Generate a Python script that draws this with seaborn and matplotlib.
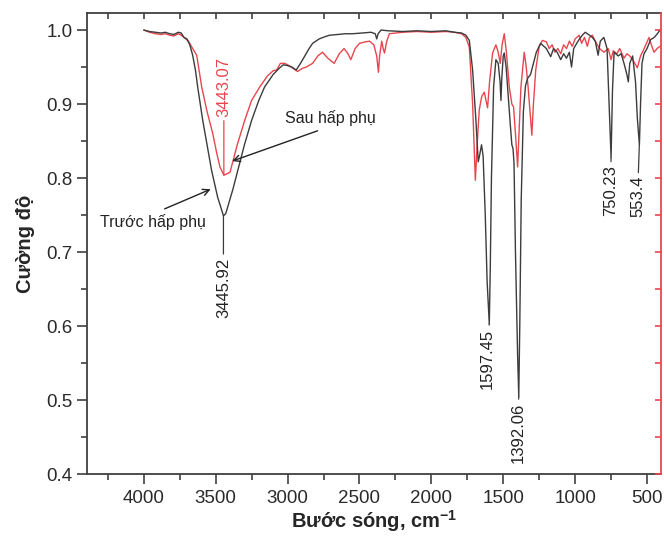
import numpy as np
import pandas as pd
import matplotlib
matplotlib.use("Agg")
import matplotlib.pyplot as plt
import seaborn as sns
from matplotlib.ticker import MultipleLocator

# spectrum before adsorption (black)
black_wn = [4000, 3960, 3920, 3880, 3850, 3820, 3790, 3760, 3740, 3720, 3700, 3680, 3660,
            3640, 3625, 3590, 3560, 3528, 3486, 3460, 3446, 3430, 3410, 3380, 3347, 3300,
            3250, 3200, 3160, 3100, 3060, 3030, 3000, 2970, 2940, 2910, 2880, 2850, 2826,
            2780, 2740, 2708, 2650, 2600, 2550, 2480, 2420, 2390, 2380, 2370, 2350, 2300,
            2200, 2100, 2000, 1900, 1840, 1790, 1760, 1736, 1713, 1690, 1674, 1665, 1651,
            1640, 1625, 1612, 1597, 1590, 1582, 1567, 1551, 1535, 1522, 1516, 1510, 1500,
            1493, 1480, 1465, 1450, 1440, 1432, 1425, 1415, 1400, 1392, 1385, 1375, 1360,
            1345, 1330, 1310, 1290, 1270, 1240, 1200, 1170, 1150, 1125, 1100, 1080, 1060,
            1040, 1025, 1010, 980, 950, 930, 900, 880, 860, 840, 825, 800, 778, 764, 750,
            740, 729, 700, 680, 660, 640, 630, 620, 600, 580, 567, 553, 545, 535, 521, 500,
            475, 450, 428, 410]
black_y = [1.000, 0.998, 0.997, 0.996, 0.997, 0.995, 0.994, 0.997, 0.996, 0.990, 0.988, 0.980, 0.966,
           0.945, 0.923, 0.878, 0.845, 0.810, 0.774, 0.758, 0.749, 0.752, 0.765, 0.785, 0.810, 0.845,
           0.878, 0.905, 0.923, 0.940, 0.948, 0.953, 0.952, 0.950, 0.946, 0.955, 0.965, 0.975, 0.982,
           0.988, 0.991, 0.993, 0.994, 0.995, 0.995, 0.996, 0.997, 0.995, 0.988, 0.995, 1.000, 0.999,
           0.998, 0.999, 0.998, 0.999, 0.997, 0.996, 0.993, 0.986, 0.946, 0.878, 0.822, 0.830, 0.845,
           0.830, 0.750, 0.660, 0.603, 0.680, 0.800, 0.923, 0.960, 0.955, 0.930, 0.905, 0.935, 0.965,
           0.969, 0.950, 0.910, 0.870, 0.845, 0.840, 0.820, 0.700, 0.560, 0.505, 0.600, 0.770, 0.890,
           0.925, 0.935, 0.940, 0.955, 0.970, 0.982, 0.975, 0.964, 0.975, 0.970, 0.960, 0.968, 0.962,
           0.970, 0.950, 0.975, 0.985, 0.993, 0.997, 0.993, 0.990, 0.985, 0.966, 0.985, 0.990, 0.975, 0.900, 0.828,
           0.920, 0.970, 0.965, 0.968, 0.955, 0.940, 0.930, 0.955, 0.965, 0.930, 0.880, 0.845, 0.900, 0.955, 0.968, 0.975,
           0.987, 0.990, 0.995, 1.000]

# spectrum after adsorption (red)
red_wn = [4000, 3960, 3920, 3880, 3850, 3820, 3790, 3760, 3740, 3720, 3690, 3660, 3632,
          3597, 3560, 3520, 3493, 3470, 3443, 3420, 3400, 3350, 3298, 3250, 3194, 3140,
          3100, 3076, 3050, 3020, 2990, 2960, 2930, 2900, 2870, 2826, 2790, 2757, 2720,
          2676, 2640, 2607, 2580, 2560, 2530, 2500, 2460, 2430, 2400, 2380, 2368, 2360,
          2345, 2335, 2326, 2310, 2292, 2200, 2100, 2000, 1900, 1840, 1790, 1760, 1736,
          1713, 1694, 1680, 1667, 1650, 1632, 1620, 1609, 1595, 1574, 1551, 1535, 1521,
          1508, 1493, 1478, 1458, 1440, 1428, 1415, 1400, 1390, 1377, 1354, 1340, 1327,
          1314, 1301, 1290, 1274, 1250, 1227, 1200, 1180, 1160, 1140, 1120, 1100, 1080,
          1060, 1040, 1020, 1000, 972, 955, 935, 915, 900, 880, 860, 830, 800, 770, 750,
          735, 710, 690, 660, 640, 620, 600, 567, 545, 520, 486, 470, 451, 430, 410]
red_y = [1.000, 0.997, 0.995, 0.994, 0.995, 0.993, 0.992, 0.995, 0.993, 0.990, 0.985, 0.975, 0.966,
         0.923, 0.890, 0.860, 0.834, 0.815, 0.804, 0.806, 0.808, 0.845, 0.878, 0.905, 0.923, 0.938,
         0.945, 0.946, 0.955, 0.955, 0.952, 0.948, 0.944, 0.948, 0.950, 0.955, 0.965, 0.970, 0.962,
         0.955, 0.968, 0.975, 0.968, 0.960, 0.975, 0.982, 0.984, 0.985, 0.980, 0.965, 0.943, 0.965,
         0.985, 0.975, 0.969, 0.985, 0.995, 0.997, 0.998, 0.997, 0.998, 0.997, 0.995, 0.990, 0.977,
         0.900, 0.797, 0.850, 0.892, 0.910, 0.916, 0.905, 0.895, 0.930, 0.969, 0.980, 0.970, 0.955,
         0.980, 0.995, 0.970, 0.923, 0.900, 0.896, 0.860, 0.815, 0.860, 0.923, 0.970, 0.950, 0.923,
         0.890, 0.858, 0.900, 0.946, 0.978, 0.986, 0.984, 0.975, 0.980, 0.970, 0.975, 0.968, 0.980,
         0.975, 0.985, 0.978, 0.988, 0.993, 0.982, 0.990, 0.978, 0.990, 0.993, 0.985, 0.975, 0.970, 0.975, 0.960,
         0.972, 0.968, 0.975, 0.962, 0.968, 0.965, 0.960, 0.949, 0.965, 0.975, 0.990, 0.980, 0.970, 0.975, 0.978]

# peak labels
black_peaks = [3445.92, 1597.45, 1392.06, 750.23, 553.4]
black_peak_y = [0.749, 0.603, 0.505, 0.828, 0.845]
black_text_pos = [(3446, 0.693), (1612, 0.597), (1398, 0.497), (752, 0.818), (566, 0.803)]
red_peak = 3443.07
red_peak_y = 0.804

BLACK = "#3c3c3c"
RED = "#e8464e"

sns.set_style("ticks")
plt.rcParams['font.family'] = ['Liberation Sans', 'DejaVu Sans']
plt.rcParams['mathtext.fontset'] = 'custom'
plt.rcParams['mathtext.rm'] = 'Liberation Sans'
plt.rcParams['mathtext.bf'] = 'Liberation Sans:bold'

fig = plt.figure(figsize=(6.64, 5.42), dpi=100)
ax = fig.add_axes([0.131, 0.125, 0.864, 0.851])

df_b = pd.DataFrame({"wn": black_wn, "y": black_y})
df_r = pd.DataFrame({"wn": red_wn, "y": red_y})
sns.lineplot(data=df_r, x="wn", y="y", color=RED, lw=1.0, ax=ax)
sns.lineplot(data=df_b, x="wn", y="y", color=BLACK, lw=1.0, ax=ax)

ax.set_xlim(4395, 405)
ax.set_ylim(0.4, 1.023)
ax.xaxis.set_major_locator(MultipleLocator(500))
ax.xaxis.set_minor_locator(MultipleLocator(250))
ax.yaxis.set_major_locator(MultipleLocator(0.1))
ax.yaxis.set_minor_locator(MultipleLocator(0.05))
ax.yaxis.set_major_formatter(matplotlib.ticker.FormatStrFormatter("%.1f"))
ax.tick_params(axis="both", which="major", direction="out", length=7, width=1.2,
               labelsize=13.5, colors="#404040", labelcolor="#2a2a2a")
ax.tick_params(axis="both", which="minor", direction="out", length=4, width=1.2, colors="#404040")
ax.tick_params(axis="x", pad=4)
for side in ["left", "bottom", "top"]:
    ax.spines[side].set_linewidth(1.3)
    ax.spines[side].set_color("#404040")
ax.spines["right"].set_visible(False)

# top ticks pointing in
top = ax.secondary_xaxis("top")
top.xaxis.set_major_locator(MultipleLocator(250))
top.tick_params(direction="in", length=4, width=1.2, labeltop=False, colors="#404040")
top.spines["top"].set_visible(False)

# red right axis
ax2 = ax.twinx()
ax2.set_ylim(ax.get_ylim())
ax2.yaxis.set_major_locator(MultipleLocator(0.05))
ax2.tick_params(axis="y", direction="in", length=4, width=1.2, colors=RED, labelright=False)
for side in ["left", "bottom", "top"]:
    ax2.spines[side].set_visible(False)
ax2.spines["right"].set_color(RED)
ax2.spines["right"].set_linewidth(1.3)

ax.set_xlabel("Bước sóng, cm$^{\\mathbf{-1}}$", fontsize=14.5, fontweight="bold", labelpad=1)
ax.set_ylabel("Cường độ", fontsize=14.5, fontweight="bold", labelpad=8)

# peak labels with leader lines
for wn, py, (tx, ty) in zip(black_peaks, black_peak_y, black_text_pos):
    ax.annotate(f"{wn}", xy=(wn, py), xytext=(tx, ty), rotation=90, ha="center", va="top",
                fontsize=12, color="#222222",
                arrowprops=dict(arrowstyle="-", color=BLACK, lw=0.9, shrinkA=0, shrinkB=0))
ax.annotate(f"{red_peak}", xy=(red_peak, red_peak_y), xytext=(red_peak, 0.882), rotation=90,
            ha="center", va="bottom", fontsize=12, color=RED,
            arrowprops=dict(arrowstyle="-", color=RED, lw=0.9, shrinkA=0, shrinkB=0))

# curve labels
ax.annotate("Sau hấp phụ", xy=(3385, 0.823), xytext=(2700, 0.881), fontsize=11.5,
            ha="center", va="center", color="#222222",
            arrowprops=dict(arrowstyle="->", color="#222222", lw=1.0, shrinkA=3, shrinkB=0,
                            relpos=(0.5, 0.0)))
ax.annotate("Trước hấp phụ", xy=(3535, 0.785), xytext=(3935, 0.741), fontsize=11.5,
            ha="center", va="center", color="#222222",
            arrowprops=dict(arrowstyle="->", color="#222222", lw=1.0, shrinkA=3, shrinkB=0,
                            relpos=(0.5, 1.0)))

fig.savefig("out.png", dpi=100)
